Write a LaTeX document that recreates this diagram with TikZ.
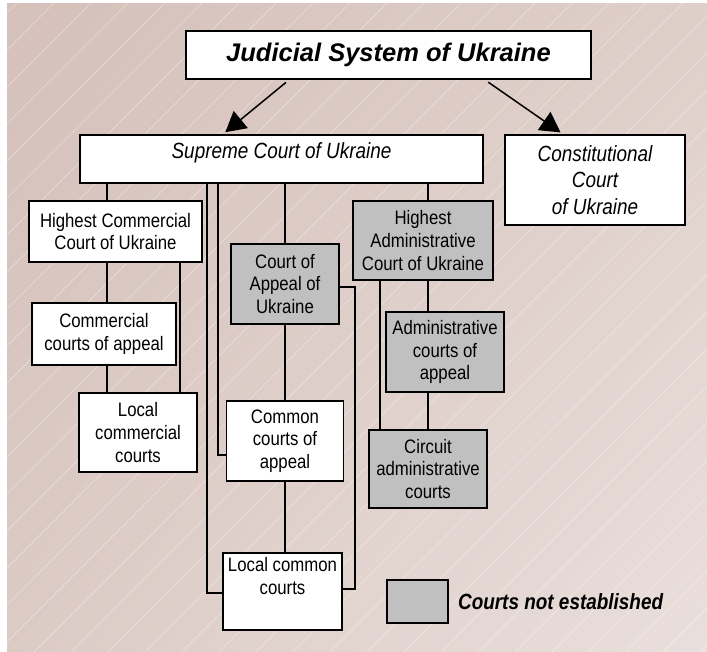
\documentclass[tikz,border=0pt]{standalone}
\usepackage{fontspec}
\setmainfont{Liberation Sans}
\newfontfamily\narrowsans[FakeStretch=0.86]{Liberation Sans}
\usepackage{xcolor}
\definecolor{mgray}{RGB}{192,192,192}
\definecolor{bgtl}{RGB}{213,192,186}
\definecolor{bgtr}{RGB}{223,207,201}
\definecolor{bgbl}{RGB}{220,203,197}
\definecolor{bgbr}{RGB}{233,223,220}
\usepackage{tikz}
\usetikzlibrary{positioning}
\usetikzlibrary{arrows.meta}
\usetikzlibrary{shadings}

\begin{document}
\begin{tikzpicture}[x=1pt, y=-1pt,
    court/.style={draw, line width=1.8pt, fill=white, inner sep=0pt, align=center, font=\narrowsans\fontsize{19.5}{22.6}\selectfont},
    pending/.style={court, fill=mgray},
    link/.style={line width=1.8pt},
    arrow/.style={-{Triangle[length=20pt, width=22pt]}, line width=1.5pt, shorten <=4pt, shorten >=3pt},
]
\useasboundingbox (0,0) rectangle (707,651);
\shade[upper left=bgtl, upper right=bgtr, lower left=bgbl, lower right=bgbr] (7,3) rectangle (707,651);
% faint diagonal lines of the background
\begin{scope}
\clip (7,3) rectangle (707,651);
\foreach \c in {20,57,...,1420}
  \draw[white, opacity=.45, line width=.6pt] (\c,0) -- (\c-700,700);
\end{scope}

\node[court, font=\bfseries\itshape\fontsize{25.5}{30}\selectfont, minimum width=405pt, minimum height=48pt] (title) at (388.5,55) {Judicial System of Ukraine};
\node[court, font=\narrowsans\itshape\fontsize{22}{26}\selectfont, minimum width=403pt, text height=23pt, text depth=25pt] (supreme) at (281.5,159) {Supreme Court of Ukraine};
\node[court, font=\narrowsans\itshape\fontsize{22}{26.5}\selectfont, minimum width=180pt, minimum height=90pt] (constitutional) at (595,180) {Constitutional\\Court\\of Ukraine};

\node[court, minimum width=173pt, minimum height=61pt] (high_comm) at (115.5,231.5) {Highest Commercial\\Court of Ukraine};
\node[court, minimum width=144pt, minimum height=62pt] (comm_appeal) at (104,334) {Commercial\\courts of appeal};
\node[court, minimum width=118pt, minimum height=79pt] (local_comm) at (138,432.5) {Local\\commercial\\courts};

\node[pending, minimum width=108pt, minimum height=80pt] (appeal) at (285,284) {Court of\\Appeal of\\Ukraine};
\node[court, minimum width=117pt, minimum height=80pt] (common_appeal) at (285,441) {Common\\courts of\\appeal};
\node[court, minimum width=119pt, minimum height=77pt, text depth=31pt] (local_common) at (282.5,591.5) {Local common\\courts};

\node[pending, minimum width=140pt, minimum height=79pt] (high_admin) at (423,240.5) {Highest\\Administrative\\Court of Ukraine};
\node[pending, minimum width=118pt, minimum height=80pt] (admin_appeal) at (445,352) {Administrative\\courts of\\appeal};
\node[pending, minimum width=118pt, minimum height=78pt] (circuit) at (428,469) {Circuit\\administrative\\courts};

\node[pending, minimum width=61pt, minimum height=43pt] (legend) at (417.5,601.5) {};
\node[right=9pt of legend, inner sep=0pt, font=\narrowsans\bfseries\itshape\fontsize{22}{25}\selectfont] (legend_text) {Courts not established};

\draw[arrow] (title.south -| 289,0) -- (supreme.north -| 223,0);
\draw[arrow] (title.south -| 485,0) -- (constitutional.north -| 563,0);

% commercial branch
\draw[link] (supreme.south -| 107,0) -- (high_comm.north -| 107,0);
\draw[link] (high_comm.south -| 107,0) -- (comm_appeal.north -| 107,0);
\draw[link] (comm_appeal.south -| 107,0) -- (local_comm.north -| 107,0);
\draw[link] (high_comm.south -| 180,0) -- (local_comm.north -| 180,0);

% common branch
\draw[link] (supreme.south -| 207,0) |- (local_common.west |- 0,593);
\draw[link] (supreme.south -| 218,0) |- (common_appeal.west |- 0,455);
\draw[link] (supreme.south -| appeal.north) -- (appeal.north);
\draw[link] (appeal.south) -- (appeal.south |- common_appeal.north);
\draw[link] (common_appeal.south) -- (common_appeal.south |- local_common.north);
\draw[link] (appeal.east |- 0,287) -- ++(15,0) |- (local_common.east |- 0,589);

% administrative branch
\draw[link] (supreme.south -| 428,0) -- (high_admin.north -| 428,0);
\draw[link] (high_admin.south -| 428,0) -- (admin_appeal.north -| 428,0);
\draw[link] (admin_appeal.south -| 428,0) -- (circuit.north -| 428,0);
\draw[link] (high_admin.south -| 380,0) -- (circuit.north -| 380,0);

\end{tikzpicture}
\end{document}
